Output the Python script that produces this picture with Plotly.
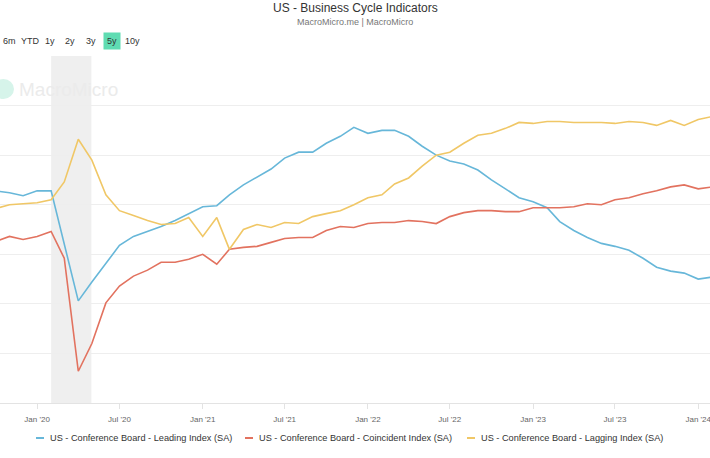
import plotly.graph_objects as go

months = [
    "2019-10-01", "2019-11-01", "2019-12-01",
    "2020-01-01", "2020-02-01", "2020-03-01", "2020-04-01", "2020-05-01", "2020-06-01",
    "2020-07-01", "2020-08-01", "2020-09-01", "2020-10-01", "2020-11-01", "2020-12-01",
    "2021-01-01", "2021-02-01", "2021-03-01", "2021-04-01", "2021-05-01", "2021-06-01",
    "2021-07-01", "2021-08-01", "2021-09-01", "2021-10-01", "2021-11-01", "2021-12-01",
    "2022-01-01", "2022-02-01", "2022-03-01", "2022-04-01", "2022-05-01", "2022-06-01",
    "2022-07-01", "2022-08-01", "2022-09-01", "2022-10-01", "2022-11-01", "2022-12-01",
    "2023-01-01", "2023-02-01", "2023-03-01", "2023-04-01", "2023-05-01", "2023-06-01",
    "2023-07-01", "2023-08-01", "2023-09-01", "2023-10-01", "2023-11-01", "2023-12-01",
    "2024-01-01", "2024-02-01",
]

leading = [
    111.4, 111.2, 110.9,
    111.4, 111.4, 106.0, 100.3, 102.2, 104.1,
    105.9, 106.8, 107.3, 107.8, 108.4, 109.1,
    109.8, 109.9, 111.0, 112.0, 112.8, 113.6,
    114.7, 115.3, 115.3, 116.2, 116.9, 117.8,
    117.2, 117.5, 117.5, 116.9, 115.9, 115.0,
    114.4, 114.1, 113.5, 112.5, 111.6, 110.7,
    110.3, 109.7, 108.3, 107.4, 106.7, 106.1,
    105.8, 105.4, 104.6, 103.7, 103.3, 103.1,
    102.5, 102.7,
]

coincident = [
    106.3, 106.8, 106.5,
    106.8, 107.3, 104.6, 93.2, 96.0, 100.1,
    101.8, 102.8, 103.4, 104.2, 104.2, 104.5,
    105.0, 104.0, 105.5, 105.7, 105.8, 106.2,
    106.6, 106.7, 106.7, 107.4, 107.8, 107.7,
    108.1, 108.2, 108.2, 108.4, 108.3, 108.1,
    108.8, 109.2, 109.4, 109.4, 109.3, 109.3,
    109.7, 109.7, 109.7, 109.8, 110.1, 110.0,
    110.5, 110.7, 111.1, 111.4, 111.8, 112.0,
    111.6, 111.8,
]

lagging = [
    109.6, 110.0, 110.1,
    110.2, 110.5, 112.3, 116.6, 114.5, 111.0,
    109.4, 108.9, 108.4, 108.0, 108.1, 108.7,
    106.8, 108.7, 105.5, 107.5, 108.0, 107.7,
    108.2, 108.1, 108.8, 109.1, 109.4, 110.0,
    110.7, 111.0, 112.1, 112.7, 113.9, 115.0,
    115.3, 116.2, 117.0, 117.2, 117.7, 118.3,
    118.2, 118.4, 118.4, 118.3, 118.3, 118.3,
    118.2, 118.4, 118.3, 118.0, 118.5, 118.0,
    118.6, 118.9,
]

series_names = [
    "US - Conference Board - Leading Index (SA)",
    "US - Conference Board - Coincident Index (SA)",
    "US - Conference Board - Lagging Index (SA)",
]
series_colors = ["#67b7d9", "#e2725f", "#f0c766"]

tick_dates = ["2020-01-01", "2020-07-01", "2021-01-01", "2021-07-01", "2022-01-01",
              "2022-07-01", "2023-01-01", "2023-07-01", "2024-01-01"]
tick_labels = ["Jan '20", "Jul '20", "Jan '21", "Jul '21", "Jan '22",
               "Jul '22", "Jan '23", "Jul '23", "Jan '24"]

recession = ["2020-02-01", "2020-04-30"]
range_buttons = ["6m", "YTD", "1y", "2y", "3y", "5y", "10y"]
button_x = [9, 30, 50, 70, 91, 112, 132]
active_button = "5y"

W, H = 710, 458
TOP, BOTTOM = 56, 403
legend_x = [36, 245, 467]   # left of each legend swatch (px)
LEGEND_Y = 438


def py(p):
    return (BOTTOM - p) / (BOTTOM - TOP)


def px(p):
    return p / W


FONT = "Liberation Sans"

fig = go.Figure()
for name, vals, col in zip(series_names, [leading, coincident, lagging], series_colors):
    fig.add_trace(go.Scatter(x=months, y=vals, mode="lines", name=name,
                             line=dict(color=col, width=1.6), cliponaxis=True))

fig.add_shape(type="rect", xref="x", yref="paper", x0=recession[0], x1=recession[1],
              y0=0, y1=1, fillcolor="#efefef", line=dict(width=0), layer="below")

# watermark
fig.add_shape(type="circle", xref="paper", yref="paper",
              x0=px(-7), x1=px(14), y0=py(99), y1=py(79),
              fillcolor="#d6f4ea", line=dict(width=0), layer="below")
annotations = [
    dict(text="MacroMicro", xref="paper", yref="paper", x=px(17), y=py(89),
         xanchor="left", yanchor="middle", showarrow=False,
         font=dict(family=FONT, size=19, color="#ebebeb")),
    dict(text="US - Business Cycle Indicators", xref="paper", yref="paper",
         x=0.5, y=py(8), xanchor="center", yanchor="middle", showarrow=False,
         font=dict(family=FONT, size=12, color="#333333")),
    dict(text="MacroMicro.me | MacroMicro", xref="paper", yref="paper",
         x=0.5, y=py(22), xanchor="center", yanchor="middle", showarrow=False,
         font=dict(family=FONT, size=9, color="#777777")),
]
for lab, bx in zip(range_buttons, button_x):
    active = lab == active_button
    annotations.append(dict(
        text=lab, xref="paper", yref="paper", x=px(bx), y=py(41),
        xanchor="center", yanchor="middle", showarrow=False,
        font=dict(family=FONT, size=9, color="#333333"),
        bgcolor="#5fdcb2" if active else "rgba(0,0,0,0)",
        borderpad=3 if active else 0,
    ))

# legend (drawn manually to match compact swatches)
for name, col, lx in zip(series_names, series_colors, legend_x):
    fig.add_shape(type="line", xref="paper", yref="paper",
                  x0=px(lx), x1=px(lx + 8), y0=py(LEGEND_Y), y1=py(LEGEND_Y),
                  line=dict(color=col, width=2))
    annotations.append(dict(
        text=name, xref="paper", yref="paper", x=px(lx + 12), y=py(LEGEND_Y),
        xanchor="left", yanchor="middle", showarrow=False,
        font=dict(family=FONT, size=9.2, color="#333333")))

fig.update_layout(
    width=W, height=H,
    margin=dict(l=0, r=0, t=TOP, b=H - BOTTOM, pad=0, autoexpand=False),
    paper_bgcolor="white", plot_bgcolor="white",
    showlegend=False,
    annotations=annotations,
    xaxis=dict(type="date", range=["2019-10-11", "2024-01-27"],
               tickvals=tick_dates, ticktext=tick_labels, automargin=False,
               ticklabeloverflow="allow", ticklabelstandoff=3,
               showgrid=False, showline=True, linecolor="#e3e3e3", linewidth=1,
               ticks="outside", ticklen=5, tickcolor="#e3e3e3",
               tickfont=dict(family=FONT, size=8, color="#666666"), zeroline=False),
    yaxis=dict(range=[90, 125], dtick=5, tick0=90, showticklabels=False, automargin=False,
               showgrid=True, gridcolor="#eeeeee", gridwidth=1, zeroline=False,
               showline=False, ticks=""),
    font=dict(family=FONT),
)

fig.write_html("out.html", config={"displayModeBar": False},
               post_script="document.body.style.margin='0px';")
